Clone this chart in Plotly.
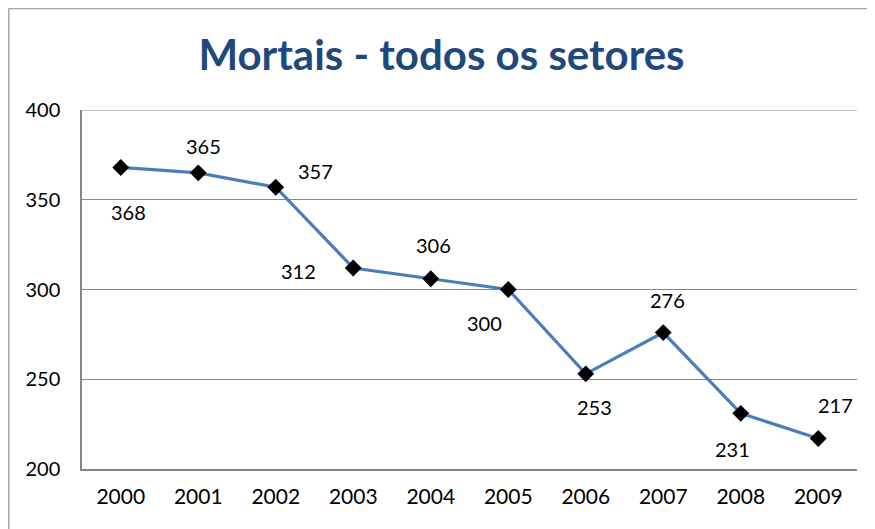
import plotly.graph_objects as go

years = ["2000", "2001", "2002", "2003", "2004", "2005", "2006", "2007", "2008", "2009"]
deaths = [368, 365, 357, 312, 306, 300, 253, 276, 231, 217]
title_text = "Mortais - todos os setores"

# label pixel offsets (dx, dy) relative to each point
label_offsets = [(8, -45), (5, 27), (40, 16), (-55, -3), (3, 34),
                 (-24, -33), (9, -33), (4, 33), (-8, -36), (17, 33)]

FONT = "Lato"
GRID = "#868686"

fig = go.Figure()
fig.add_trace(go.Scatter(
    x=years, y=deaths, mode="lines+markers",
    line=dict(color="#4A7EBB", width=3.2),
    marker=dict(symbol="diamond", size=13, color="black"),
    showlegend=False, hoverinfo="skip"))

for i, (v, (dx, dy)) in enumerate(zip(deaths, label_offsets)):
    fig.add_annotation(x=i, y=v, text=str(v), showarrow=False,
                       xshift=dx, yshift=dy,
                       font=dict(family=FONT, size=20, color="black"))

# top gridline at 400
fig.add_shape(type="line", xref="paper", yref="y", x0=0, x1=1, y0=400, y1=400,
              line=dict(color=GRID, width=1.2))

# outer chart frame (left and top edges visible)
fig.add_shape(type="line", xref="paper", yref="paper",
              x0=-0.0945, x1=-0.0945, y0=1.283, y1=-0.3,
              line=dict(color="#A6A6A6", width=1.5))
fig.add_shape(type="line", xref="paper", yref="paper",
              x0=-0.0945, x1=1.1, y0=1.283, y1=1.283,
              line=dict(color="#A6A6A6", width=1.5))

fig.update_layout(
    width=867, height=521,
    margin=dict(l=74, r=18, t=102, b=60),
    paper_bgcolor="white", plot_bgcolor="white",
    title=dict(text="<b>" + title_text + "</b>", x=0.5, xanchor="center",
               y=0.91, yanchor="middle",
               font=dict(family=FONT, size=42, color="#1F497D")),
    xaxis=dict(type="category", range=[-0.5, 9.5], showgrid=False, showline=True,
               linecolor=GRID, linewidth=1.5, ticks="", ticklabelstandoff=8,
               tickfont=dict(family=FONT, size=21, color="black")),
    yaxis=dict(range=[200, 400], dtick=50, showgrid=True,
               gridcolor=GRID, gridwidth=1.2, showline=True,
               linecolor=GRID, linewidth=1.5, zeroline=False,
               ticks="", ticklabelstandoff=16,
               tickfont=dict(family=FONT, size=20, color="black")),
)

fig.write_html("out.html")
